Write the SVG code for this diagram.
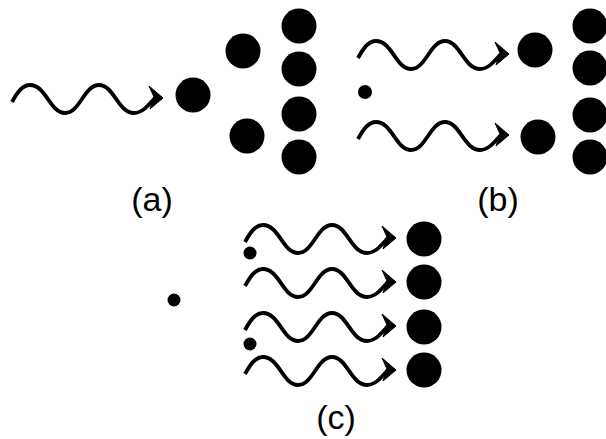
<svg xmlns="http://www.w3.org/2000/svg" width="606" height="439" viewBox="0 0 606 439">
<style>
.w{fill:none;stroke:#000;stroke-width:3.8}
.ah{fill:#000;stroke:#000;stroke-width:1}
.big{fill:#000}
.lbl{font-family:"Liberation Sans",Arial,sans-serif;font-size:34px;fill:#000;text-anchor:middle}
</style>
<defs>
<g id="wave">
<path class="w" d="M0,3 C5,-6 10,-14 18,-14 C34,-14 38,14 53,14 C68,14 72,-14 87,-14 C102,-14 106,14 122,14 C130,14 136,7 143,-1"/>
<path class="ah" d="M151,-1 L137,-13 L142,-2 L138,10 Z"/>
</g>
</defs>
<g id="connectors">
<use href="#wave" transform="translate(12,99)"/>
<use href="#wave" transform="translate(358,55)"/>
<use href="#wave" transform="translate(358,136)"/>
<use href="#wave" transform="translate(245,239)"/>
<use href="#wave" transform="translate(245,283)"/>
<use href="#wave" transform="translate(245,327)"/>
<use href="#wave" transform="translate(245,371)"/>
</g>
<g id="panel-a">
<circle class="big" cx="193" cy="95" r="17.5"/>
<circle class="big" cx="243" cy="51" r="17.5"/>
<circle class="big" cx="247" cy="136" r="17.5"/>
<circle class="big" cx="299" cy="26" r="17.5"/>
<circle class="big" cx="299" cy="69" r="17.5"/>
<circle class="big" cx="299" cy="114" r="17.5"/>
<circle class="big" cx="299" cy="157" r="17.5"/>
<text class="lbl" x="152" y="211">(a)</text>
</g>
<g id="panel-b">
<circle class="big" cx="365" cy="92" r="7"/>
<circle class="big" cx="535" cy="50" r="17.5"/>
<circle class="big" cx="538" cy="137" r="17.5"/>
<circle class="big" cx="590" cy="26" r="17.5"/>
<circle class="big" cx="590" cy="68" r="17.5"/>
<circle class="big" cx="590" cy="115" r="17.5"/>
<circle class="big" cx="590" cy="157" r="17.5"/>
<text class="lbl" x="498" y="211">(b)</text>
</g>
<g id="panel-c">
<circle class="big" cx="174" cy="300" r="6.5"/>
<circle class="big" cx="250" cy="253" r="6.5"/>
<circle class="big" cx="250" cy="344" r="6.5"/>
<circle class="big" cx="424" cy="239" r="17.5"/>
<circle class="big" cx="424" cy="282" r="17.5"/>
<circle class="big" cx="424" cy="327" r="17.5"/>
<circle class="big" cx="424" cy="370" r="17.5"/>
<text class="lbl" x="336" y="429">(c)</text>
</g>
</svg>
